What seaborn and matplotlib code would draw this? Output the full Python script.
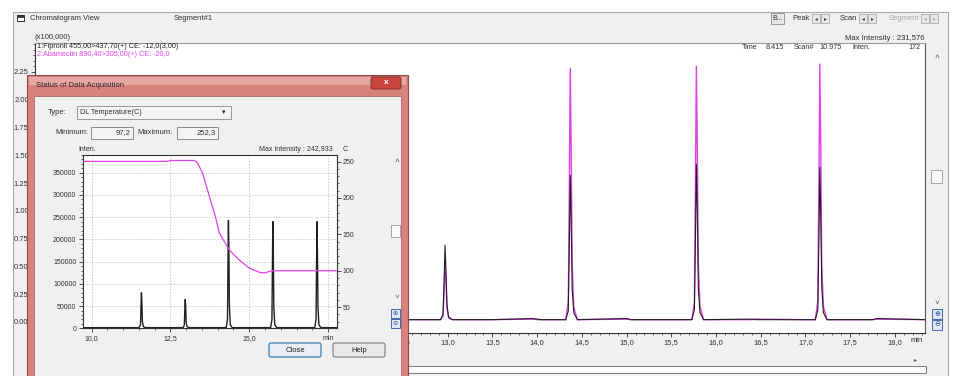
import numpy as np
import pandas as pd
import matplotlib
matplotlib.use("Agg")
import matplotlib.pyplot as plt
from matplotlib.patches import Rectangle, FancyBboxPatch
from matplotlib.ticker import MultipleLocator, FixedLocator, FuncFormatter, FixedFormatter
import seaborn as sns

# ---------------- data ----------------
# main chromatogram (time in min, intensity in x100,000)
main_time = [8.39, 9.0, 9.5, 10.0, 10.5, 11.0, 11.5, 12.0, 12.5,
             12.92, 12.948, 12.96, 12.97, 12.98, 12.992, 13.01, 13.05,
             13.5, 13.95, 14.0, 14.05,
             14.32, 14.348, 14.36, 14.37, 14.38, 14.392, 14.41, 14.45,
             15.0, 15.05, 15.5,
             15.73, 15.758, 15.77, 15.78, 15.79, 15.802, 15.82, 15.86,
             16.4, 16.45, 17.0,
             17.11, 17.138, 17.15, 17.16, 17.17, 17.182, 17.20, 17.24,
             17.75, 17.8, 18.34]
fipronil = [0.02, 0.02, 0.015, 0.02, 0.018, 0.02, 0.02, 0.018, 0.02,
            0.02, 0.07, 0.38, 0.69, 0.48, 0.15, 0.045, 0.02,
            0.02, 0.03, 0.025, 0.02,
            0.02, 0.10, 0.72, 1.32, 0.92, 0.29, 0.08, 0.02,
            0.03, 0.02, 0.02,
            0.02, 0.11, 0.78, 1.42, 0.99, 0.31, 0.085, 0.02,
            0.025, 0.02, 0.02,
            0.02, 0.11, 0.76, 1.39, 0.97, 0.31, 0.083, 0.02,
            0.02, 0.03, 0.02]
abamectin = [0.02, 0.02, 0.018, 0.02, 0.02, 0.018, 0.02, 0.02, 0.02,
             0.02, 0.05, 0.29, 0.52, 0.38, 0.12, 0.035, 0.02,
             0.02, 0.025, 0.02, 0.02,
             0.02, 0.18, 1.25, 2.28, 1.60, 0.50, 0.13, 0.02,
             0.025, 0.02, 0.02,
             0.02, 0.18, 1.27, 2.30, 1.61, 0.51, 0.14, 0.02,
             0.02, 0.025, 0.02,
             0.02, 0.19, 1.28, 2.32, 1.62, 0.51, 0.14, 0.02,
             0.02, 0.025, 0.02]
main_xticks = [8.5, 9.0, 9.5, 10.0, 10.5, 11.0, 11.5, 12.0, 12.5, 13.0, 13.5,
               14.0, 14.5, 15.0, 15.5, 16.0, 16.5, 17.0, 17.5, 18.0]
main_yticks = [0.0, 0.25, 0.5, 0.75, 1.0, 1.25, 1.5, 1.75, 2.0, 2.25]

# inset: total intensity and DL temperature
in_time = [9.72, 10.5, 11.0,
           11.50, 11.55, 11.57, 11.58, 11.595, 11.61, 11.64, 11.70,
           12.0, 12.5,
           12.90, 12.94, 12.96, 12.97, 12.985, 13.0, 13.03, 13.09,
           13.5, 14.0,
           14.27, 14.31, 14.33, 14.34, 14.355, 14.37, 14.40, 14.46,
           15.0,
           15.68, 15.72, 15.74, 15.75, 15.765, 15.78, 15.81, 15.87,
           16.5,
           17.08, 17.12, 17.14, 17.15, 17.165, 17.18, 17.21, 17.27,
           17.78]
in_inten = [1500, 1500, 1500,
            1500, 8000, 60000, 80000, 55000, 15000, 4000, 1500,
            1500, 1500,
            1500, 7000, 50000, 65000, 45000, 12000, 3500, 1500,
            1500, 1500,
            1500, 20000, 180000, 242933, 170000, 50000, 8000, 1500,
            1500,
            1500, 20000, 175000, 240000, 165000, 48000, 8000, 1500,
            1500,
            1500, 20000, 178000, 240000, 168000, 50000, 8000, 1500,
            1500]
temp_time = [9.72, 12.40, 12.50, 13.26, 13.36, 13.52, 13.73, 13.94, 14.05,
             14.36, 14.68, 14.99, 15.20, 15.36, 15.52, 15.62, 15.73, 17.78]
temp_c = [250.2, 250.2, 251.5, 251.5, 248.0, 234.0, 203.0, 172.0, 152.0,
          129.0, 115.0, 104.0, 100.0, 97.5, 97.2, 99.0, 100.0, 100.0]
in_xticks = [10.0, 12.5, 15.0, 17.5]
in_xlabels = ["10,0", "12,5", "15,0", "min"]
in_yticks = [0, 50000, 100000, 150000, 200000, 250000, 300000, 350000]
in_rticks = [50, 100, 150, 200, 250]

# ---------------- style ----------------
sns.set_style("white")
plt.rcParams["font.family"] = ["Liberation Sans", "DejaVu Sans"]
plt.rcParams["font.size"] = 5.5

W, H = 954, 376
fig = plt.figure(figsize=(W / 100, H / 100), dpi=100)
fig.patch.set_facecolor("white")


def rect(x0, y0, x1, y1):
    return [x0 / W, 1 - y1 / H, (x1 - x0) / W, (y1 - y0) / H]


def px_axes(z):
    a = fig.add_axes([0, 0, 1, 1], zorder=z)
    a.set_xlim(0, W)
    a.set_ylim(H, 0)
    a.axis("off")
    return a


GRAY = "#f0f0f0"
MAG = "#e040e8"
TXT = "#303030"

# ---------------- window background ----------------
bg = px_axes(-5)
bg.add_patch(Rectangle((13, 12), 935, 370, facecolor=GRAY, edgecolor="#a8a8a8", lw=0.8))
bg.add_patch(Rectangle((17, 15), 7, 6, facecolor="white", edgecolor="#333", lw=0.7))
bg.add_patch(Rectangle((17, 15), 7, 2, facecolor="#333", edgecolor="#333", lw=0.5))
bg.text(30, 18, "Chromatogram View", va="center", ha="left", color=TXT)
bg.text(174, 18, "Segment#1", va="center", ha="left", color=TXT)
# toolbar
bg.add_patch(Rectangle((771, 13), 13, 11, facecolor="#e6e6e6", edgecolor="#8a8a8a", lw=0.6))
bg.text(777.5, 18.5, "B...", va="center", ha="center", color=TXT, fontsize=5)
for lab, xl, xa, col in [("Peak", 792, 812, TXT), ("Scan", 840, 859, TXT), ("Segment", 889, 921, "#a8a8a8")]:
    bg.text(xl, 18.5, lab, va="center", ha="left", color=col)
    for k, g in enumerate(["\u25c2", "\u25b8"]):
        bg.add_patch(Rectangle((xa + k * 9, 14), 8, 9, facecolor="#e8e8e8", edgecolor="#a0a0a0", lw=0.5))
        bg.text(xa + k * 9 + 4, 18.5, g, va="center", ha="center", fontsize=4, color=col)
bg.text(925, 38.5, "Max Intensity : 231,576", va="center", ha="right", color=TXT)
bg.text(35, 37.5, "(x100,000)", va="center", ha="left", color=TXT)
# right scrollbar
bg.text(937, 57, "\u02c4", va="center", ha="center", fontsize=6, color="#555")
bg.add_patch(Rectangle((931, 170), 11, 13, facecolor="#f8f8f8", edgecolor="#9a9a9a", lw=0.6))
bg.text(937, 303, "\u02c5", va="center", ha="center", fontsize=6, color="#555")
for k, g in enumerate(["\u2295", "\u2296"]):
    bg.add_patch(Rectangle((932, 309 + k * 11), 10, 10, facecolor="#dfe6f5", edgecolor="#3050a0", lw=0.6))
    bg.text(937, 314 + k * 11, g, va="center", ha="center", fontsize=5, color="#3050a0")
# bottom scrollbar
bg.text(916, 360, "\u25b8", va="center", ha="center", fontsize=4.5, color="#555")
bg.add_patch(Rectangle((407, 366), 519, 7, facecolor="white", edgecolor="#7a7a7a", lw=0.7))
bg.text(916.5, 340.5, "min", va="center", ha="center", color=TXT)

# ---------------- main chromatogram ----------------
axm = fig.add_axes(rect(35, 43, 925, 333), zorder=0)
axm.set_facecolor("white")
df_main = pd.DataFrame({"time": main_time, "Fipronil": fipronil, "Abamectin": abamectin})
sns.lineplot(data=df_main, x="time", y="Abamectin", ax=axm, color=MAG, lw=1.0,
             estimator=None, sort=False)
sns.lineplot(data=df_main, x="time", y="Fipronil", ax=axm, color="#202020", lw=0.8,
             estimator=None, sort=False)
axm.set_xlim(8.386, 18.336)
axm.set_ylim(-0.1, 2.51)
axm.set_xlabel("")
axm.set_ylabel("")
axm.xaxis.set_major_locator(FixedLocator(main_xticks))
axm.xaxis.set_minor_locator(MultipleLocator(0.1))
# labels left of 12.5 lie under the dialog window and are not shown
axm.xaxis.set_major_formatter(FuncFormatter(
    lambda v, p: f"{v:.1f}".replace(".", ",") if v > 12.4 else ""))
axm.yaxis.set_major_locator(FixedLocator(main_yticks))
axm.yaxis.set_minor_locator(MultipleLocator(0.05))
axm.yaxis.set_major_formatter(FuncFormatter(lambda v, p: f"{v:.2f}"))
axm.tick_params(which="major", length=3, width=0.6, color="#333", labelsize=5.5,
                labelcolor=TXT, pad=1.5, bottom=True, left=True)
axm.tick_params(which="minor", length=1.5, width=0.5, color="#333", bottom=True, left=True)
for s, c in [("left", "#333"), ("bottom", "#333"), ("top", "#9a9a9a"), ("right", "#555")]:
    axm.spines[s].set_color(c)
    axm.spines[s].set_linewidth(0.8)

# texts inside white area
ov = px_axes(0.5)
ov.text(37, 46.5, "1:Fipronil 455,00>437,70(+) CE: -12,0(3,00)", va="center", ha="left", color="#202020", fontsize=5.2)
ov.text(37, 55, "2:Abamectin 890,40>305,00(+) CE: -20,0", va="center", ha="left", color=MAG, fontsize=5.2)
for s, xx, ha in [("Time", 742, "left"), ("8.415", 766, "left"), ("Scan#", 794, "left"),
                  ("10.975", 819, "left"), ("Inten.", 852, "left"), ("172", 921, "right")]:
    ov.text(xx, 47.5, s, va="center", ha=ha, color=TXT, fontsize=5.2)

# ---------------- dialog ----------------
dl = px_axes(1)
dl.add_patch(Rectangle((27, 75), 381, 310, facecolor="#d8827e", edgecolor="#8c4a47", lw=0.8))
dl.add_patch(Rectangle((29, 77), 377, 8, facecolor="#e6a7a3", edgecolor="none"))
dl.add_patch(Rectangle((34, 96), 367, 290, facecolor=GRAY, edgecolor="#a86a67", lw=0.6))
dl.text(36, 85.5, "Status of Data Acquisition", va="center", ha="left", color="#2a2a2a", fontsize=5.5)
dl.add_patch(FancyBboxPatch((371, 77), 30, 12, boxstyle="round,pad=0,rounding_size=2",
                            facecolor="#c8453e", edgecolor="#7a2a25", lw=0.6))
dl.text(386, 83, "x", va="center", ha="center", color="white", fontsize=6, fontweight="bold")
# controls
dl.text(48, 113, "Type:", va="center", ha="left", color=TXT)
dl.add_patch(Rectangle((77, 106), 154, 13, facecolor="#f4f4f4", edgecolor="#8a8a8a", lw=0.6))
dl.text(80, 112.5, "DL Temperature(C)", va="center", ha="left", color=TXT, fontsize=5.2)
dl.text(224, 112.5, "\u25be", va="center", ha="center", color="#222", fontsize=5)
dl.text(55, 133, "Minimum:", va="center", ha="left", color=TXT)
dl.add_patch(Rectangle((91, 127), 42, 12, facecolor="#f4f4f4", edgecolor="#7a7a7a", lw=0.6))
dl.text(131, 133, "97,2", va="center", ha="right", color=TXT)
dl.text(137, 133, "Maximum:", va="center", ha="left", color=TXT)
dl.add_patch(Rectangle((177, 127), 41, 12, facecolor="#f4f4f4", edgecolor="#7a7a7a", lw=0.6))
dl.text(216, 133, "252,3", va="center", ha="right", color=TXT)
dl.text(78, 149.5, "Inten.", va="center", ha="left", color=TXT, fontsize=5)
dl.text(333, 149.5, "Max Intensity : 242,933", va="center", ha="right", color=TXT, fontsize=5)
dl.text(345, 149.5, "C", va="center", ha="center", color=TXT, fontsize=5)
# dialog scrollbar
dl.text(397, 161, "\u02c4", va="center", ha="center", fontsize=6, color="#555")
dl.add_patch(Rectangle((391, 225), 9, 12, facecolor="#f8f8f8", edgecolor="#9a9a9a", lw=0.6))
dl.text(397, 298, "\u02c5", va="center", ha="center", fontsize=6, color="#555")
for k, g in enumerate(["\u2295", "\u2296"]):
    dl.add_patch(Rectangle((391, 309 + k * 10), 9, 9, facecolor="#dfe6f5", edgecolor="#3050a0", lw=0.6))
    dl.text(395.5, 313.5 + k * 10, g, va="center", ha="center", fontsize=4.5, color="#3050a0")
# buttons
dl.add_patch(FancyBboxPatch((269, 343), 52, 14, boxstyle="round,pad=0,rounding_size=2",
                            facecolor="#e8eef3", edgecolor="#3c7fb1", lw=0.9))
dl.text(295, 350, "Close", va="center", ha="center", color="#222", fontsize=5.5)
dl.add_patch(FancyBboxPatch((333, 343), 52, 14, boxstyle="round,pad=0,rounding_size=2",
                            facecolor="#e8e8e8", edgecolor="#707070", lw=0.7))
dl.text(359, 350, "Help", va="center", ha="center", color="#222", fontsize=5.5)

# ---------------- inset chart ----------------
axi = fig.add_axes(rect(82.7, 155, 336.7, 328.3), zorder=2)
axi.set_facecolor("white")
axi.set_axisbelow(True)
axi.grid(True, which="major", ls=(0, (1.5, 2)), color="#b8b8b8", lw=0.6)
df_in = pd.DataFrame({"time": in_time, "inten": in_inten})
sns.lineplot(data=df_in, x="time", y="inten", ax=axi, color="#202020", lw=1.0,
             estimator=None, sort=False)
axi.set_xlim(9.716, 17.775)
axi.set_ylim(0, 390000)
axi.set_xlabel("")
axi.set_ylabel("")
axi.xaxis.set_major_locator(FixedLocator(in_xticks))
axi.xaxis.set_major_formatter(FixedFormatter(in_xlabels))
axi.xaxis.set_minor_locator(MultipleLocator(0.5))
axi.yaxis.set_major_locator(FixedLocator(in_yticks))
axi.yaxis.set_major_formatter(FuncFormatter(lambda v, p: f"{int(v)}"))
axi.yaxis.set_minor_locator(MultipleLocator(10000))
axi.tick_params(which="major", length=3, width=0.6, color="#333", labelsize=5,
                labelcolor=TXT, pad=1.5, bottom=True, left=True)
axi.tick_params(which="minor", length=1.5, width=0.5, color="#333", bottom=True, left=True)
for s in axi.spines.values():
    s.set_color("#333")
    s.set_linewidth(0.8)

axt = axi.twinx()
axt.set_zorder(3)
axt.patch.set_visible(False)
df_t = pd.DataFrame({"time": temp_time, "temp": temp_c})
sns.lineplot(data=df_t, x="time", y="temp", ax=axt, color=MAG, lw=0.9,
             estimator=None, sort=False)
axt.set_ylim(21, 259)
axt.set_ylabel("")
axt.yaxis.set_major_locator(FixedLocator(in_rticks))
axt.yaxis.set_minor_locator(MultipleLocator(10))
axt.tick_params(which="major", length=3, width=0.6, color="#333", labelsize=5,
                labelcolor=TXT, pad=1.5, right=True)
axt.tick_params(which="minor", length=1.5, width=0.5, color="#333", right=True)
for s in axt.spines.values():
    s.set_visible(False)

fig.savefig("out.png", dpi=100, facecolor=fig.get_facecolor())
